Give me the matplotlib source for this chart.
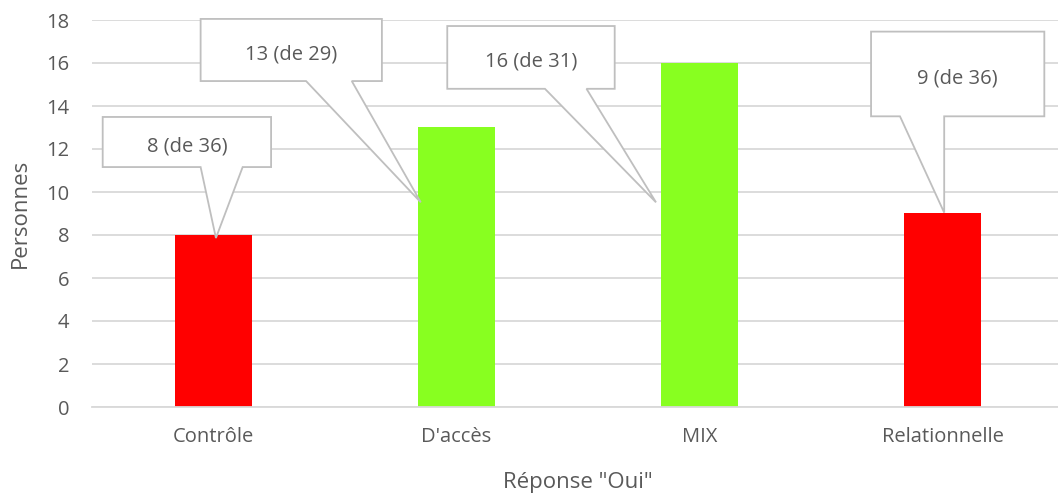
import matplotlib
matplotlib.use("Agg")
import matplotlib.pyplot as plt
from matplotlib.patches import Polygon

# Data
categories = ["Contrôle", "D'accès", "MIX", "Relationnelle"]
oui_counts = [8, 13, 16, 9]
totals = [36, 29, 31, 36]
bar_colors = ["#FF0000", "#88FF20", "#88FF20", "#FF0000"]
y_ticks = [0, 2, 4, 6, 8, 10, 12, 14, 16, 18]

# Callout geometry in data units: box (x0, x1, y0, y1), wedge base (bx0, bx1), tip (tx, ty)
callout_boxes = [(-0.456, 0.237, 11.16, 13.49),
                 (-0.053, 0.693, 15.16, 18.05),
                 (0.962, 1.651, 14.80, 17.72),
                 (2.706, 3.419, 13.52, 17.46)]
callout_bases = [(-0.053, 0.120), (0.381, 0.569), (1.364, 1.535), (2.825, 3.007)]
callout_tips = [(0.010, 7.86), (0.853, 9.52), (1.821, 9.52), (3.007, 9.04)]

plt.rcParams['font.family'] = ['Open Sans', 'DejaVu Sans']
text_color = "#595959"
grid_color = "#D9D9D9"
edge_color = "#BFBFBF"

W, H = 1058, 494
fig = plt.figure(figsize=(W / 100, H / 100), dpi=100)
ax = fig.add_axes([92 / W, (H - 407) / H, (1064 - 92) / W, (407 - 20) / H])

x = list(range(len(categories)))
ax.bar(x, oui_counts, width=0.317, color=bar_colors, zorder=2)

ax.set_xlim(-0.5, 3.5)
ax.set_ylim(0, 18)
ax.set_yticks(y_ticks)
ax.set_xticks(x)
ax.set_xticklabels(categories)
ax.yaxis.grid(True, color=grid_color, linewidth=1.3, zorder=0)
ax.set_axisbelow(True)
for side in ("top", "right", "left"):
    ax.spines[side].set_visible(False)
ax.spines["bottom"].set_color(grid_color)
ax.spines["bottom"].set_linewidth(1.3)
ax.tick_params(axis="both", length=0, labelsize=14.5, colors=text_color)
ax.tick_params(axis="y", pad=16.5)
ax.tick_params(axis="x", pad=14.5)

ax.set_xlabel('Réponse "Oui"', fontsize=16, color=text_color)
ax.set_ylabel("Personnes", fontsize=16, color=text_color)
ax.xaxis.set_label_coords(0.5, -0.168)
ax.yaxis.set_label_coords(-0.063, 0.5)

# Wedge-shaped callouts with value labels
for v, n, (x0, x1, y0, y1), (bx0, bx1), (tx, ty) in zip(
        oui_counts, totals, callout_boxes, callout_bases, callout_tips):
    pts = [(x0, y1), (x1, y1), (x1, y0), (bx1, y0), (tx, ty), (bx0, y0), (x0, y0)]
    poly = Polygon(pts, closed=True, facecolor="white", edgecolor=edge_color,
                   linewidth=1.3, zorder=4, clip_on=False)
    ax.add_patch(poly)
    ax.text((x0 + x1) / 2, (y0 + y1) / 2 - 0.2, f"{v} (de {n})", ha="center",
            va="center", fontsize=14.5, color=text_color, zorder=5)

fig.savefig("out.png", dpi=100)
